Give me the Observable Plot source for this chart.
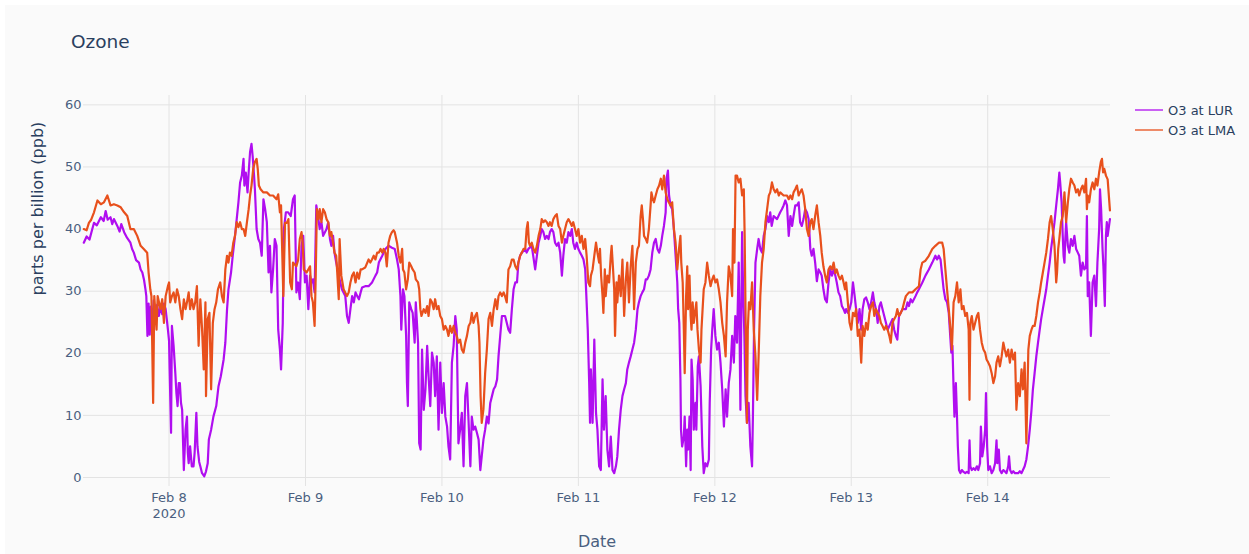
<!DOCTYPE html>
<html>
<head>
<meta charset="utf-8">
<script src="https://cdn.jsdelivr.net/npm/d3@7"></script>
<script src="https://cdn.jsdelivr.net/npm/@observablehq/plot@0.6"></script>
<style>
  html, body { margin: 0; padding: 0; background: #ffffff; }
  #wrap { position: relative; width: 1249px; height: 554px; overflow: hidden; font-family: "DejaVu Sans", Verdana, sans-serif; }
  #bg { position: absolute; left: 5px; top: 5px; width: 1244px; height: 549px; background: #fafafa; }
  #chart { position: absolute; left: 0; top: 0; }
  #title { position: absolute; left: 71px; top: 32px; font-size: 18.5px; line-height: 20px; color: #2a3f5f; }
  #legend { position: absolute; left: 1135px; top: 100px; font-size: 13px; color: #2a3f5f; }
  .row { display: flex; align-items: center; height: 20px; }
  .row svg { margin-right: 5px; }
</style>
</head>
<body>
<div id="wrap">
  <div id="bg"></div>
  <div id="chart"></div>
  <div id="title"></div>
  <div id="legend"></div>
</div>
<script>
// ---- Data (hours since 2020-02-07 00:00, ozone in ppb) ----
const titleText = "Ozone";
const xTitle = "Date";
const yTitle = "parts per billion (ppb)";
const seriesNames = ["O3 at LUR", "O3 at LMA"];
const seriesColors = ["#b00ef0", "#e8501c"];
const yTicks = [0, 10, 20, 30, 40, 50, 60];
const dayTicks = ["2020-02-08", "2020-02-09", "2020-02-10", "2020-02-11", "2020-02-12", "2020-02-13", "2020-02-14"];
const yearLabel = "2020";

const lurPoints = [
[9.0,37.8],[9.5,38.8],[10.0,38.3],[10.5,40.0],[10.8,41.0],[11.3,40.6],[12.0,41.9],[12.5,41.3],[12.85,42.9],[13.2,41.5],[13.7,41.9],[14.0,40.8],[14.3,41.6],[14.9,40.5],[15.3,39.6],[15.6,40.8],[16.1,39.5],[16.6,38.6],[17.2,37.8],[17.5,36.8],[17.8,36.2],[18.2,35.0],[18.7,34.6],[19.0,33.5],[19.3,33.0],[19.6,31.8],[19.85,30.3],[20.0,29.2],[20.2,22.8],[20.4,28.0],[20.6,23.0],[20.8,27.5],[21.0,24.5],[21.3,28.5],[21.6,26.0],[21.9,27.8],[22.2,26.0],[22.5,27.5],[22.8,26.3],[23.1,28.0],[23.4,27.1],[23.6,25.5],[23.8,23.8],[24.0,22.0],[24.1,17.4],[24.35,7.2],[24.5,24.4],[24.8,21.2],[25.1,16.8],[25.3,13.5],[25.5,11.5],[25.7,15.2],[25.9,15.2],[26.1,12.0],[26.3,10.9],[26.6,1.2],[26.9,7.7],[27.15,9.8],[27.3,4.0],[27.45,2.3],[27.7,5.0],[28.0,1.8],[28.3,1.8],[28.5,4.0],[28.8,10.4],[29.0,5.0],[29.3,2.5],[29.5,1.8],[29.8,0.7],[30.2,0.2],[30.5,1.0],[30.8,2.3],[31.0,6.1],[31.4,7.7],[31.8,9.8],[32.3,11.5],[32.7,14.7],[33.1,16.3],[33.6,19.0],[33.9,21.7],[34.2,27.1],[34.45,30.3],[34.9,33.0],[35.2,35.7],[35.6,38.9],[35.9,41.6],[36.2,44.3],[36.5,47.5],[36.8,48.6],[37.1,51.3],[37.25,47.0],[37.5,49.1],[37.8,45.9],[38.0,49.1],[38.25,52.4],[38.5,53.7],[38.7,51.8],[38.95,48.6],[39.1,46.4],[39.4,40.0],[39.7,38.4],[40.0,37.8],[40.3,35.7],[40.6,44.8],[40.9,43.2],[41.2,41.1],[41.5,33.0],[41.75,37.3],[42.0,29.8],[42.3,33.5],[42.6,38.4],[42.9,37.3],[43.2,23.8],[43.5,20.6],[43.7,17.4],[44.0,24.9],[44.2,40.0],[44.55,42.7],[44.95,42.7],[45.4,42.1],[45.8,44.8],[46.1,45.4],[46.4,29.8],[46.7,31.4],[47.0,28.7],[47.3,37.3],[47.6,38.9],[47.9,31.4],[48.2,32.5],[48.5,27.1],[48.8,32.5],[49.05,31.4],[49.3,31.9],[49.6,29.8],[49.9,43.8],[50.2,42.1],[50.5,40.0],[50.8,41.1],[51.1,38.9],[51.7,40.0],[52.0,41.1],[52.3,38.4],[52.55,37.3],[52.85,38.9],[53.1,36.2],[53.4,34.6],
[53.85,32.5],[54.4,30.3],[55.0,29.2],[55.3,26.0],[55.6,24.9],[55.9,27.1],[56.2,29.2],[56.5,28.2],[56.8,29.8],[57.1,29.2],[57.4,28.7],[57.7,29.8],[57.95,30.6],[58.5,30.8],[59.1,30.8],[59.7,31.4],[60.3,32.5],[60.6,33.0],[60.9,34.6],[61.5,35.7],[62.05,36.8],[62.6,37.3],[63.2,37.0],[63.7,36.8],[64.1,35.1],[64.4,33.5],[64.7,29.2],[64.85,23.8],[65.15,30.3],[65.4,29.2],[65.7,22.8],[65.85,15.2],[66.0,11.5],[66.25,28.2],[66.6,27.1],[66.85,26.5],[67.2,21.7],[67.4,28.2],[67.8,21.7],[68.0,5.5],[68.25,4.5],[68.5,20.6],[68.8,10.9],[69.1,14.2],[69.4,21.2],[69.65,16.3],[69.95,11.5],[70.25,20.1],[70.55,18.5],[70.8,13.1],[71.1,19.5],[71.4,7.7],[71.7,18.5],[72.0,10.4],[72.3,15.2],[72.6,9.8],[72.9,8.2],[73.15,5.0],[73.45,2.9],[73.75,18.5],[74.05,21.2],[74.35,26.0],[74.6,23.8],[74.9,5.5],[75.2,7.7],[75.5,10.4],[75.8,1.8],[76.1,13.1],[76.4,15.2],[76.7,8.7],[77.0,1.8],[77.25,9.8],[77.55,7.7],[77.85,8.2],[78.15,7.2],[78.45,6.1],[78.75,1.2],[79.0,3.4],[79.3,6.1],[79.6,7.7],[79.9,9.8],[80.2,8.7],[80.5,12.0],[80.8,13.1],[81.1,14.2],[81.4,14.7],[81.7,15.8],[81.95,19.5],[82.25,22.8],[82.55,26.0],[82.85,26.0],[83.1,26.0],[83.4,24.9],[83.7,23.8],[84.0,23.3],[84.3,27.1],[84.6,30.3],[84.9,31.4],[85.2,31.4],[85.45,34.6],[85.75,35.7],[86.05,36.2],[86.65,36.8],[86.9,36.2],[87.2,36.8],[87.8,37.3],[88.4,33.5],[88.7,35.7],[89.0,37.8],[89.3,38.9],[89.55,40.0],[89.85,39.5],[90.15,38.4],[90.45,38.9],[90.75,38.4],[91.0,39.5],[91.3,40.0],[91.6,39.5],[91.9,37.8],[92.2,37.3],[92.5,37.8],[92.8,36.2],[93.1,32.5],[93.35,35.7],[93.65,38.4],[93.95,37.8],[94.25,39.5],[94.55,38.9],[94.85,40.0],[95.1,37.8],[95.4,36.8],[95.7,37.8],[96.0,36.8],[96.3,36.2],[96.6,35.7],[96.9,35.1],[97.2,33.5],[97.45,28.2],[97.65,23.8],[97.9,15.2],[98.05,8.8],
[98.2,17.4],[98.5,8.8],[98.8,22.2],[99.1,10.4],[99.35,7.7],[99.65,1.8],[99.95,1.2],[100.25,15.8],[100.5,7.7],[100.8,13.1],[101.1,4.5],[101.4,1.8],[101.7,6.6],[102.0,1.2],[102.3,0.7],[102.6,1.8],[102.85,3.4],[103.15,7.7],[103.45,10.9],[103.75,13.1],[104.05,14.2],[104.35,15.2],[104.6,17.4],[104.9,18.5],[105.2,19.5],[105.5,20.6],[105.8,21.7],[106.1,23.8],[106.4,27.1],[106.65,28.2],[106.95,29.2],[107.25,29.8],[107.55,30.3],[107.85,31.9],[108.1,31.9],[108.4,32.5],[108.7,33.5],[109.0,36.2],[109.3,37.8],[109.6,38.4],[109.9,36.8],[110.2,36.2],[110.5,37.3],[110.75,38.9],[111.05,40.5],[111.35,42.7],[111.5,48.1],[111.75,49.4],[111.95,45.4],[112.2,43.8],[112.5,43.2],[112.8,40.0],[113.1,35.7],[113.4,31.4],[113.55,27.1],[113.75,24.9],[113.95,15.8],[114.05,7.7],[114.25,5.0],[114.55,6.6],[114.7,9.8],[114.95,1.8],[115.15,7.7],[115.3,4.5],[115.55,9.8],[115.75,1.2],[115.9,19.0],[116.1,15.8],[116.3,7.7],[116.6,12.0],[116.75,7.7],[117.0,17.9],[117.2,19.5],[117.5,14.7],[117.8,5.0],[118.05,0.7],[118.35,2.3],[118.65,1.8],[118.95,2.9],[119.1,12.0],[119.35,20.6],[119.55,23.8],[119.8,27.1],[120.1,22.8],[120.4,20.6],[120.7,21.7],[121.0,18.5],[121.3,14.2],[121.6,8.2],[121.9,14.2],[122.15,9.8],[122.45,15.2],[122.75,17.4],[123.05,22.8],[123.35,18.5],[123.6,26.0],[123.9,21.7],[124.2,34.6],[124.35,23.8],[124.5,10.9],[124.8,39.5],[124.95,31.4],[125.2,22.8],[125.4,13.1],[125.65,8.8],[125.95,12.0],[126.25,5.0],[126.55,1.8],[126.7,9.8],[126.9,23.8],[127.15,34.6],[127.45,36.8],[127.7,38.4],[128.0,36.8],[128.3,36.2],[128.6,38.9],[128.9,40.0],[129.2,42.1],[129.5,41.1],[129.75,42.7],[130.0,40.5],[130.35,42.1],[130.95,41.6],[131.5,42.7],[131.8,43.2],[132.1,43.8],[132.4,44.6],[132.7,43.8],[133.0,38.9],[133.3,42.1],[133.6,40.5],[133.85,42.1],[134.15,43.8],[134.45,43.8],[134.75,44.3],[135.0,41.1],[135.3,40.5],[135.6,41.6],[135.9,43.2],[136.2,42.7],[136.5,41.6],[136.8,36.8],[137.05,35.7],[137.35,36.8],[137.65,34.6],[137.95,31.6],[138.25,33.5],[138.55,33.0],[138.8,32.5],[139.1,30.3],[139.4,28.7],[139.7,28.2],[140.0,31.4],[140.3,33.5],[140.6,32.5],[140.9,33.5],[141.2,32.5],[141.45,31.4],[141.75,29.8],[142.05,29.2],[142.35,27.6],[142.65,27.1],[142.9,26.5],
[143.1,27.1],[143.4,26.5],[143.7,27.1],[144.0,28.2],[144.3,31.4],[144.6,29.2],[144.85,27.1],[145.15,24.9],[145.45,27.1],[145.75,23.8],[146.0,27.1],[146.3,28.7],[146.6,29.0],[146.9,28.2],[147.2,27.1],[147.5,28.2],[147.8,29.8],[148.05,28.2],[148.35,27.1],[148.65,24.9],[148.95,27.6],[149.2,28.2],[149.5,27.1],[149.8,26.0],[150.1,24.9],[150.4,23.8],[150.7,24.4],[150.95,24.9],[151.25,25.5],[151.55,23.8],[151.85,22.8],[152.1,22.2],[152.4,26.0],[152.7,26.5],[153.0,27.1],[153.6,27.1],[153.9,28.2],[154.15,27.6],[154.45,28.7],[154.75,28.2],[155.3,29.2],[155.6,29.8],[155.9,30.3],[156.5,31.4],[157.05,32.5],[157.65,33.5],[158.25,34.6],[158.5,35.1],[158.8,35.7],[159.1,35.1],[159.4,35.7],[159.7,35.1],[160.0,32.5],[160.25,30.3],[160.55,28.7],[160.85,28.2],[161.15,26.5],[161.45,22.2],[161.6,20.1],[161.8,21.2],[162.0,14.2],[162.15,9.8],[162.4,15.2],[162.6,9.8],[162.75,5.0],[162.95,1.2],[163.2,0.7],[163.45,1.2],[163.75,0.9],[164.05,0.7],[164.35,0.9],[164.65,0.7],[164.8,6.0],[164.95,1.8],[165.2,1.2],[165.5,1.5],[165.8,1.2],[166.1,1.8],[166.35,1.2],[166.65,2.3],[166.8,8.2],[167.05,3.4],[167.3,5.0],[167.55,7.7],[167.7,13.6],[167.9,5.0],[168.1,1.2],[168.4,1.8],[168.7,0.7],[169.0,1.2],[169.3,2.3],[169.55,6.0],[169.7,2.3],[169.95,4.5],[170.15,1.2],[170.45,0.7],[170.75,1.2],[171.0,1.0],[171.3,0.7],[171.6,1.8],[171.75,3.4],[171.95,1.2],[172.2,0.7],[172.5,1.0],[172.8,0.7],[173.05,0.7],[173.35,0.7],[173.65,1.0],[173.95,0.7],[174.2,1.2],[174.5,1.8],[174.8,2.9],[175.1,5.0],[175.4,7.7],[175.7,10.9],[175.95,14.2],[176.25,16.8],[176.55,19.5],[176.85,21.7],[177.15,23.8],[177.4,25.5],[177.7,27.1],[178.0,28.7],[178.3,30.3],[178.6,32.5],[178.9,34.6],[179.15,36.8],[179.45,38.9],[179.75,41.1],[180.05,43.8],[180.35,46.4],[180.6,49.1],[180.75,47.5],[181.0,44.3],[181.2,38.9],[181.35,35.7],[181.5,34.6],[181.65,38.4],[181.8,41.1],[182.1,37.3],[182.35,36.2],[182.65,38.4],[182.95,37.3],[183.25,38.9],[183.55,36.8],[183.85,36.2],[184.1,35.7],[184.4,32.5],[184.7,34.6],[185.0,33.5],[185.3,34.0],[185.45,42.1],[185.6,29.2],[185.85,31.4],[186.15,22.8],[186.45,31.4],[186.75,32.5],[187.05,27.6],[187.3,34.6],[187.6,40.0],[187.75,46.4],[187.95,43.2],[188.2,36.8],[188.35,34.0],[188.6,27.6],[188.8,38.9],[188.95,41.1],[189.1,38.9],[189.5,41.6]
];

const lmaPoints = [
[9.0,40.0],[9.5,39.8],[9.9,41.0],[10.3,41.5],[10.8,42.7],[11.4,44.6],[12.0,44.0],[12.55,44.3],[13.15,45.4],[13.7,43.8],[14.3,44.0],[14.9,43.8],[15.5,43.5],[16.1,42.7],[16.65,42.1],[17.2,40.0],[17.8,40.0],[18.4,38.9],[19.0,37.3],[19.55,36.8],[20.15,36.2],[20.4,33.0],[20.7,30.3],[20.9,29.2],[21.2,12.0],[21.4,29.2],[21.8,23.8],[22.0,29.2],[22.5,27.1],[22.8,28.7],[23.1,24.9],[23.4,29.2],[23.8,30.8],[24.0,31.4],[24.2,28.2],[24.5,29.2],[24.8,29.8],[25.1,28.2],[25.4,30.3],[25.7,29.2],[26.0,27.1],[26.3,25.5],[26.6,28.7],[26.9,27.1],[27.15,28.2],[27.45,29.8],[27.7,27.1],[28.0,28.7],[28.3,27.1],[28.6,28.2],[28.9,30.8],[29.2,21.2],[29.5,28.7],[29.8,24.0],[30.1,17.4],[30.4,28.2],[30.5,13.1],[30.8,25.5],[31.1,26.5],[31.4,14.2],[31.7,24.9],[32.0,27.1],[32.3,28.2],[32.6,30.3],[33.0,31.4],[33.3,29.2],[33.6,28.2],[33.9,33.5],[34.2,35.7],[34.45,34.6],[34.7,36.2],[35.0,35.7],[35.3,37.8],[35.6,38.9],[35.9,41.1],[36.2,40.3],[36.5,41.1],[36.8,40.0],[37.1,40.0],[37.4,38.9],[37.7,41.1],[38.0,43.2],[38.25,45.4],[38.5,47.0],[38.8,49.7],[39.1,50.8],[39.4,51.3],[39.6,49.7],[39.8,47.0],[40.1,46.4],[40.6,45.9],[41.2,45.9],[41.75,45.4],[42.3,45.4],[42.9,44.8],[43.2,45.6],[43.5,42.7],[43.7,43.8],[44.1,29.2],[44.4,41.0],[44.7,41.0],[45.0,41.6],[45.3,31.4],[45.6,30.3],[45.8,34.6],[46.4,34.0],[46.7,35.0],[47.0,38.4],[47.3,39.5],[47.5,37.8],[47.7,33.5],[48.2,33.0],[48.8,34.0],[49.05,29.2],[49.3,28.2],[49.6,24.4],[49.8,32.5],[50.0,43.2],[50.3,41.6],[50.5,43.2],[50.8,41.1],[51.1,43.2],[51.4,42.7],[51.7,41.6],[52.0,41.1],[52.3,38.9],[52.55,39.5],[52.85,37.8],[53.1,36.2],[53.4,35.7],
[53.55,33.5],[53.85,28.7],[54.0,38.4],[54.3,32.5],[54.7,30.3],[55.3,29.2],[55.6,29.8],[55.9,31.4],[56.2,32.5],[56.5,33.0],[56.8,31.4],[57.1,33.0],[57.4,32.0],[57.7,33.5],[57.95,33.5],[58.5,33.8],[59.1,35.1],[59.4,34.6],[59.7,35.1],[60.0,35.7],[60.3,35.1],[60.6,36.2],[60.9,36.2],[61.2,36.8],[61.5,36.2],[61.75,36.8],[62.05,36.2],[62.3,34.0],[62.6,37.8],[62.9,38.9],[63.2,39.5],[63.5,39.8],[63.7,39.5],[64.1,37.8],[64.4,35.7],[64.7,34.6],[65.0,36.8],[65.15,33.5],[65.4,33.0],[65.7,30.3],[66.0,31.9],[66.25,34.6],[66.6,34.0],[66.85,33.5],[67.2,33.0],[67.4,31.9],[67.8,31.4],[68.0,30.3],[68.2,27.1],[68.4,26.0],[68.8,27.1],[69.1,26.5],[69.4,27.6],[69.65,26.0],[69.95,28.7],[70.25,28.2],[70.55,27.1],[70.8,28.7],[71.1,27.1],[71.4,27.6],[71.7,26.0],[72.0,25.5],[72.3,23.8],[72.6,24.4],[72.9,23.8],[73.15,22.8],[73.45,24.4],[73.75,23.3],[74.05,24.4],[74.35,23.3],[74.6,22.8],[74.9,21.7],[75.2,22.2],[75.5,20.6],[75.8,20.1],[76.1,21.7],[76.4,22.8],[76.7,24.4],[77.0,24.9],[77.25,26.5],[77.55,24.9],[77.85,26.0],[78.15,26.5],[78.45,24.4],[78.6,21.7],[78.8,13.1],[79.0,8.8],[79.3,11.0],[79.6,16.8],[79.9,20.6],[80.2,25.5],[80.5,26.5],[80.8,24.4],[81.1,27.1],[81.4,28.7],[81.7,27.1],[81.95,29.2],[82.25,29.8],[82.55,29.2],[82.85,29.8],[83.1,29.2],[83.4,28.2],[83.7,33.5],[84.0,34.0],[84.3,35.1],[84.6,35.1],[84.9,34.0],[85.2,33.5],[85.45,34.6],[85.75,35.7],[86.05,36.2],[86.35,36.8],[86.65,36.8],[86.9,40.0],[87.1,41.1],[87.3,37.8],[87.5,37.3],[87.8,37.8],[88.1,36.8],[88.4,36.2],[88.7,37.3],[89.0,38.9],[89.3,40.0],[89.55,41.6],[89.85,41.1],[90.15,41.4],[90.45,41.1],[90.75,40.5],[91.0,41.1],[91.3,40.5],[91.6,41.6],[91.9,42.1],[92.2,42.4],[92.5,40.5],[92.8,40.0],[93.1,37.8],[93.35,38.9],[93.65,40.0],[93.95,41.1],[94.25,41.6],[94.55,41.1],[94.85,40.5],[95.1,41.1],[95.4,40.0],[95.7,38.9],[96.0,40.0],[96.3,37.8],[96.6,38.9],[96.9,36.8],[97.2,38.4],[97.45,35.7],[97.75,31.4],[98.05,30.8],
[98.2,32.5],[98.5,33.5],[98.8,35.7],[99.1,37.8],[99.35,36.2],[99.65,34.6],[99.8,36.8],[100.0,32.5],[100.25,29.2],[100.4,26.5],[100.65,33.5],[100.8,29.2],[101.1,32.5],[101.4,31.4],[101.7,35.7],[101.85,37.3],[102.1,33.5],[102.3,30.3],[102.45,22.8],[102.7,31.4],[102.85,28.2],[103.15,32.5],[103.45,29.2],[103.75,35.1],[104.05,26.0],[104.35,31.9],[104.6,34.6],[104.9,28.2],[105.2,34.0],[105.5,37.3],[105.8,27.1],[106.1,34.6],[106.4,36.8],[106.65,37.3],[106.95,42.1],[107.15,43.8],[107.4,41.1],[107.55,38.9],[107.85,38.4],[108.1,37.8],[108.4,40.0],[108.7,43.8],[108.85,45.9],[109.1,44.8],[109.3,44.3],[109.6,45.4],[109.9,46.4],[110.2,47.0],[110.5,48.1],[110.75,46.4],[111.05,48.6],[111.35,45.9],[111.65,44.8],[111.9,44.3],[112.2,43.8],[112.5,44.3],[112.8,40.0],[113.1,37.8],[113.4,33.5],[113.7,36.8],[113.95,38.9],[114.1,34.6],[114.35,31.4],[114.55,23.8],[114.7,16.8],[114.95,29.2],[115.15,34.0],[115.3,27.1],[115.55,32.5],[115.75,26.0],[115.9,23.8],[116.1,28.2],[116.3,24.9],[116.6,27.1],[116.75,28.2],[116.95,23.8],[117.2,20.6],[117.5,18.5],[117.65,23.8],[117.85,27.1],[118.05,30.3],[118.35,31.4],[118.65,34.6],[118.95,32.5],[119.25,30.8],[119.55,31.9],[119.8,32.5],[120.1,31.4],[120.4,31.9],[120.7,30.3],[121.0,28.2],[121.3,24.9],[121.6,22.8],[121.9,19.5],[122.15,28.2],[122.45,34.0],[122.75,32.5],[123.05,29.2],[123.2,40.0],[123.45,34.6],[123.65,48.6],[123.9,48.6],[124.2,47.5],[124.5,48.1],[124.8,45.4],[125.1,46.4],[125.25,38.9],[125.45,22.8],[125.65,8.8],[125.8,23.8],[126.0,28.2],[126.25,27.1],[126.55,31.4],[126.85,23.8],[127.15,19.5],[127.45,12.5],[127.7,19.5],[128.0,29.2],[128.3,34.6],[128.6,36.8],[128.9,41.1],[129.2,43.2],[129.5,45.4],[129.75,45.9],[130.05,47.5],[130.35,46.4],[130.65,45.9],[130.95,46.4],[131.25,45.4],[131.5,45.9],[132.1,45.4],[132.7,45.4],[133.0,44.8],[133.3,45.4],[133.6,44.8],[133.85,45.9],[134.15,46.4],[134.45,47.0],[134.75,45.4],[135.0,45.9],[135.3,46.4],[135.6,45.4],[135.9,43.2],[136.2,40.0],[136.5,38.9],[136.8,41.1],[137.05,41.6],[137.35,40.0],[137.65,42.1],[137.95,43.8],[138.25,41.1],[138.55,38.9],[138.8,36.2],[139.1,34.0],[139.4,32.5],[139.7,31.4],[140.0,33.5],[140.3,34.0],[140.6,33.5],[140.9,34.6],[141.2,32.9],[141.45,33.5],[141.75,32.5],[142.05,31.9],[142.35,32.5],[142.65,31.4],[142.9,30.3],
[143.1,31.4],[143.4,28.2],[143.7,24.9],[144.0,23.8],[144.3,26.5],[144.6,26.0],[144.85,27.1],[145.15,22.8],[145.45,23.8],[145.75,18.5],[146.0,24.4],[146.3,22.8],[146.6,24.9],[146.9,23.8],[147.2,26.5],[147.5,27.6],[147.8,28.2],[148.05,26.0],[148.35,27.1],[148.65,26.5],[148.95,26.0],[149.2,24.9],[149.5,24.4],[149.8,23.8],[150.1,24.4],[150.4,23.8],[150.7,22.8],[150.95,21.7],[151.25,24.9],[151.55,25.5],[151.85,26.0],[152.1,27.1],[152.4,26.0],[152.7,26.5],[153.0,27.1],[153.3,28.2],[153.6,29.2],[154.15,29.8],[154.75,29.8],[155.3,30.3],[155.9,30.8],[156.2,33.5],[156.5,34.6],[157.05,34.9],[157.65,35.7],[158.25,36.8],[158.8,37.3],[159.4,37.8],[160.0,37.8],[160.25,36.8],[160.55,33.5],[160.85,30.3],[161.15,27.1],[161.45,23.8],[161.7,20.6],[162.0,28.2],[162.3,29.2],[162.6,31.4],[162.9,28.2],[163.2,30.3],[163.45,27.1],[163.75,27.6],[164.05,26.0],[164.35,26.5],[164.65,23.8],[164.8,12.5],[164.95,24.9],[165.2,26.0],[165.5,23.8],[165.8,24.9],[166.1,26.0],[166.35,26.5],[166.65,23.8],[166.95,21.7],[167.25,20.6],[167.55,20.1],[167.8,19.0],[168.1,18.5],[168.4,17.9],[168.7,16.8],[169.0,15.2],[169.3,16.3],[169.55,18.5],[169.85,19.5],[170.15,17.9],[170.45,19.5],[170.75,21.7],[171.0,20.6],[171.3,19.5],[171.6,20.6],[171.9,18.5],[172.2,20.6],[172.5,19.0],[172.8,20.1],[173.05,10.9],[173.35,15.2],[173.65,13.1],[173.95,17.4],[174.2,14.2],[174.5,18.5],[174.8,5.5],[174.95,12.0],[175.15,20.6],[175.4,22.8],[175.7,23.8],[175.95,24.4],[176.25,24.4],[176.55,26.0],[176.85,28.2],[177.15,29.8],[177.4,31.4],[177.7,33.0],[178.0,34.6],[178.3,36.2],[178.6,38.4],[178.9,41.1],[179.15,42.1],[179.45,40.0],[179.75,37.3],[180.05,31.4],[180.2,33.0],[180.4,36.8],[180.6,38.4],[180.9,41.1],[181.2,42.1],[181.5,45.9],[181.8,41.1],[182.1,44.3],[182.35,46.4],[182.65,48.1],[182.95,47.5],[183.25,47.0],[183.55,45.9],[183.85,46.4],[184.1,45.4],[184.4,46.4],[184.7,47.0],[185.0,45.9],[185.3,48.1],[185.45,43.2],[185.6,45.4],[185.85,44.3],[186.15,46.4],[186.45,47.5],[186.75,46.4],[187.05,48.1],[187.3,47.0],[187.6,49.1],[187.9,50.8],[188.1,51.3],[188.3,49.1],[188.5,49.7],[188.8,48.6],[189.1,48.0],[189.5,43.0]
];

// ---- Build ----
const t0 = Date.UTC(2020, 1, 7);
const toDate = h => new Date(t0 + h * 3600e3);
const rows = (pts, name) => pts.map(([h, v]) => ({date: toDate(h), value: v, series: name}));
const lur = rows(lurPoints, seriesNames[0]);
const lma = rows(lmaPoints, seriesNames[1]);
const days = dayTicks.map(s => new Date(s + "T00:00:00Z"));

const gridColor = "#e3e3e3";
const textColor = "#2a3f5f";
const tickColor = "#4a5f80";

const chart = Plot.plot({
  width: 1249,
  height: 554,
  marginLeft: 83,
  marginRight: 139,
  marginTop: 95,
  marginBottom: 77,
  style: {background: "transparent", fontFamily: "DejaVu Sans, Verdana, sans-serif", fontSize: "13px", color: textColor, overflow: "visible"},
  x: {type: "utc", domain: [toDate(8.95), toDate(189.6)]},
  y: {domain: [0, 61.5]},
  marks: [
    Plot.gridY(yTicks, {stroke: gridColor, strokeOpacity: 1}),
    Plot.gridX(days, {stroke: gridColor, strokeOpacity: 1}),
    Plot.line(lur, {x: "date", y: "value", stroke: seriesColors[0], strokeWidth: 2.2, strokeLinejoin: "round"}),
    Plot.line(lma, {x: "date", y: "value", stroke: seriesColors[1], strokeWidth: 2.2, strokeLinejoin: "round"}),
    Plot.axisY(yTicks, {tickSize: 0, tickPadding: 2, fontSize: 13, fill: tickColor, label: null}),
    Plot.axisX(days, {tickSize: 9, tickPadding: 6, stroke: gridColor, fill: tickColor, fontSize: 13, tickFormat: d3.utcFormat("%b %-d"), label: null}),
    Plot.axisX([days[0]], {tickSize: 0, tickPadding: 31, fill: tickColor, fontSize: 13, tickFormat: () => yearLabel, label: null}),
    Plot.text([xTitle], {text: d => d, frameAnchor: "bottom", dy: 69, fontSize: 16, fill: tickColor}),
    Plot.text([yTitle], {text: d => d, frameAnchor: "left", dx: -46, dy: 9, rotate: -90, fontSize: 16, fill: textColor})
  ]
});
document.getElementById("chart").appendChild(chart);
document.getElementById("title").textContent = titleText;

const legend = document.getElementById("legend");
seriesNames.forEach((name, i) => {
  const row = document.createElement("div");
  row.className = "row";
  row.innerHTML = `<svg width="28" height="6"><line x1="0" y1="3" x2="28" y2="3" stroke="${seriesColors[i]}" stroke-width="2" stroke-opacity="0.65"></line></svg><span></span>`;
  row.querySelector("span").textContent = name;
  legend.appendChild(row);
});
</script>
</body>
</html>
